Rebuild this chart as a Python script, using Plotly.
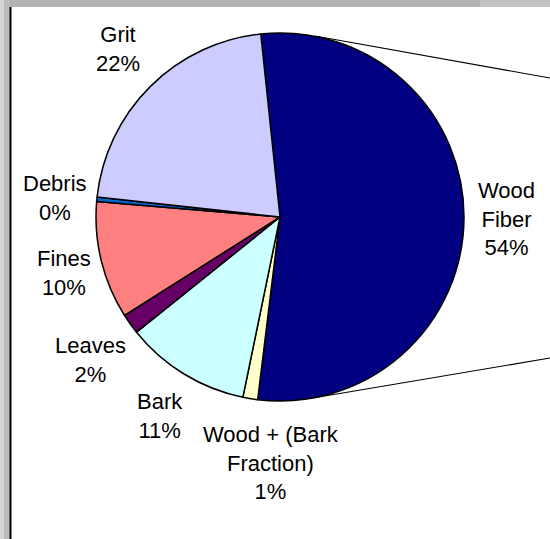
import math
import plotly.graph_objects as go

# ---- data ----
categories = ["Wood<br>Fiber", "Wood + (Bark<br>Fraction)", "Bark", "Leaves", "Fines", "Debris", "Grit"]
values = [53.6, 1.3, 11.0, 1.8, 10.3, 0.4, 21.6]
colors = ["#000080", "#FFFFCC", "#CCFFFF", "#660066", "#FF8080", "#0066CC", "#CCCCFF"]

W, H = 550, 539
CX, CY, R = 280, 217, 184
ROT = -6.0
FONT = dict(family="Liberation Sans, Arial, sans-serif", size=22, color="#000000")


def px(x):
    return x / W


def py(y):
    return 1 - y / H


fig = go.Figure()
fig.add_trace(go.Pie(
    labels=categories,
    values=values,
    sort=False,
    direction="clockwise",
    rotation=ROT,
    textinfo="none",
    hoverinfo="label+percent",
    marker=dict(colors=colors, line=dict(color="#000000", width=1.5)),
    domain=dict(x=[px(CX - R), px(CX + R)], y=[py(CY + R), py(CY - R)]),
    showlegend=False,
))

# labels placed outside each slice, derived from the slice angles
total = sum(values)
nudges = {1: (23, -10), 2: (7, -3), 3: (8, 0), 4: (3, -9), 5: (4, 0)}
annotations = []
acc = 0.0
for i, (lab, v) in enumerate(zip(categories, values)):
    mid = ROT + (acc + v / 2) / total * 360
    acc += v
    a = math.radians(mid)
    ux, uy = math.sin(a), -math.cos(a)
    gap = R + 12
    ax_, ay_ = CX + gap * ux, CY + gap * uy
    xanchor = "left" if ux > 0.3 else ("right" if ux < -0.3 else "center")
    yanchor = "top" if uy > 0.3 else ("bottom" if uy < -0.3 else "middle")
    pct = v / total
    dx, dy = nudges.get(i, (0, 0))
    annotations.append(dict(
        x=px(ax_), y=py(ay_), xref="paper", yref="paper",
        text=f"{lab}<br>{pct:.0%}", showarrow=False,
        xanchor=xanchor, yanchor=yanchor, align="center",
        xshift=dx, yshift=dy, font=FONT,
    ))

shapes = [
    # frame shadow (top and left)
    dict(type="rect", xref="paper", yref="paper", x0=0, x1=1, y0=py(7), y1=1,
         fillcolor="#b3b3b3", line_width=0, layer="above"),
    dict(type="rect", xref="paper", yref="paper", x0=px(480), x1=1, y0=py(7), y1=1,
         fillcolor="#c2c2c2", line_width=0, layer="above"),
    dict(type="rect", xref="paper", yref="paper", x0=0, x1=px(10), y0=0, y1=1,
         fillcolor="#bcbcbc", line_width=0, layer="above"),
    dict(type="rect", xref="paper", yref="paper", x0=0, x1=px(4), y0=0, y1=1,
         fillcolor="#d6d6d6", line_width=0, layer="above"),
    dict(type="line", xref="paper", yref="paper", x0=px(10.5), x1=px(10.5), y0=0, y1=py(7),
         line=dict(color="#000000", width=2), layer="above"),
    # connector lines toward the secondary chart
    dict(type="line", xref="paper", yref="paper", x0=px(315), y0=py(36), x1=px(550), y1=py(78),
         line=dict(color="#000000", width=1.2)),
    dict(type="line", xref="paper", yref="paper", x0=px(313), y0=py(398), x1=px(550), y1=py(358),
         line=dict(color="#000000", width=1.2)),
]

fig.update_layout(
    width=W, height=H,
    margin=dict(l=0, r=0, t=0, b=0),
    paper_bgcolor="#ffffff", plot_bgcolor="#ffffff",
    annotations=annotations,
    shapes=shapes,
)

fig.write_html(
    "out.html",
    config={"displayModeBar": False},
    post_script="document.body.style.margin='0';document.body.style.padding='0';",
)
